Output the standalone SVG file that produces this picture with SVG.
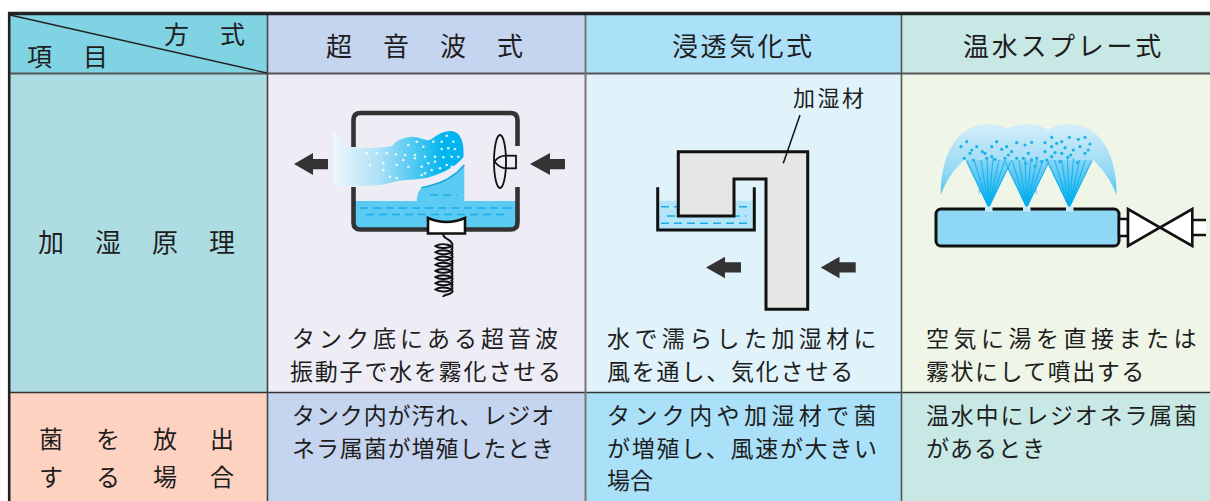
<svg xmlns="http://www.w3.org/2000/svg" width="1210" height="501" viewBox="0 0 1210 501">
<defs>
<style>
.t{font-family:'Noto Sans CJK JP','Noto Sans',sans-serif;fill:#1e1e1e}
.h{font-size:26px}
.b{font-size:23px}
.ink{stroke:#111;fill:none}
.dash{stroke:#19ace6;stroke-width:1.6;stroke-dasharray:8 5;fill:none}
.arrow{fill:#333}
.md{fill:#fff;opacity:.85}
.sd{fill:#19b2ea}
.cl{stroke:#00aeef;stroke-width:1;opacity:.8}
</style>
<linearGradient id="mist" x1="333" y1="0" x2="463" y2="0" gradientUnits="userSpaceOnUse">
<stop offset="0" stop-color="#eef8fd"/>
<stop offset="0.35" stop-color="#ade1f7"/>
<stop offset="0.85" stop-color="#00b4ef"/>
<stop offset="1" stop-color="#00b4ef"/>
</linearGradient>
<linearGradient id="dome" x1="0" y1="124" x2="0" y2="205" gradientUnits="userSpaceOnUse">
<stop offset="0" stop-color="#d6eef9"/>
<stop offset="0.6" stop-color="#92d8f5"/>
<stop offset="1" stop-color="#2cbbef"/>
</linearGradient>
<linearGradient id="cone" x1="0" y1="158" x2="0" y2="206" gradientUnits="userSpaceOnUse">
<stop offset="0" stop-color="#8fd6f5"/>
<stop offset="1" stop-color="#05b0ef"/>
</linearGradient>
</defs>

<g id="cells">
<rect x="9" y="15" width="258" height="58" fill="#7fd3e3"/>
<rect x="267" y="15" width="318" height="58" fill="#c6d5ef"/>
<rect x="585" y="15" width="316" height="58" fill="#aae1f9"/>
<rect x="901" y="15" width="309" height="58" fill="#c8e8e5"/>
<rect x="9" y="73" width="258" height="319" fill="#addde3"/>
<rect x="267" y="73" width="318" height="319" fill="#eeedf6"/>
<rect x="585" y="73" width="316" height="319" fill="#e0f3fb"/>
<rect x="901" y="73" width="309" height="319" fill="#eff6e8"/>
<rect x="9" y="392" width="258" height="109" fill="#fdd2c1"/>
<rect x="267" y="392" width="318" height="109" fill="#c6d5ef"/>
<rect x="585" y="392" width="316" height="109" fill="#aae1f9"/>
<rect x="901" y="392" width="309" height="109" fill="#c8e8e5"/>
</g>

<g id="grid">
<line x1="9" y1="73.5" x2="1210" y2="73.5" stroke="#555" stroke-width="2"/>
<line x1="9" y1="392.5" x2="1210" y2="392.5" stroke="#333" stroke-width="1.6"/>
<line x1="267.5" y1="15" x2="267.5" y2="501" stroke="#444" stroke-width="1.6"/>
<line x1="585.5" y1="15" x2="585.5" y2="501" stroke="#777" stroke-width="2"/>
<line x1="901.5" y1="15" x2="901.5" y2="501" stroke="#555" stroke-width="1.6"/>
<line x1="10" y1="15" x2="267" y2="73" stroke="#222" stroke-width="1.3"/>
<line x1="8" y1="13.5" x2="1210" y2="13.5" stroke="#222" stroke-width="3.5"/>
<line x1="9.2" y1="12" x2="9.2" y2="501" stroke="#222" stroke-width="2.6"/>
</g>

<g id="header">
<text class="t" x="164" y="44" font-size="25" letter-spacing="31">方式</text>
<text class="t" x="27" y="66" font-size="25" letter-spacing="31">項目</text>
<text class="t h" x="326" y="56" letter-spacing="31">超音波式</text>
<text class="t h" x="672" y="56" letter-spacing="2.5">浸透気化式</text>
<text class="t h" x="963" y="56" letter-spacing="2.7">温水スプレー式</text>
</g>

<g id="row-labels">
<text class="t" x="38" y="252" font-size="26" letter-spacing="31">加湿原理</text>
<text class="t" x="39" y="448" font-size="24" letter-spacing="33">菌を放出</text>
<text class="t" x="39" y="486" font-size="24" letter-spacing="33">する場合</text>
</g>

<g id="texts">
<text class="t b" x="292" y="347" letter-spacing="4">タンク底にある超音波</text>
<text class="t b" x="290" y="380" letter-spacing="1.8">振動子で水を霧化させる</text>
<text class="t b" x="607" y="347" letter-spacing="4.4">水で濡らした加湿材に</text>
<text class="t b" x="607" y="380" letter-spacing="1.8">風を通し、気化させる</text>
<text class="t b" x="926" y="347" letter-spacing="4.5">空気に湯を直接または</text>
<text class="t b" x="926" y="380" letter-spacing="1.5">霧状にして噴出する</text>
<text class="t b" x="292" y="424" letter-spacing="0.9">タンク内が汚れ、レジオ</text>
<text class="t b" x="292" y="457" letter-spacing="0.9">ネラ属菌が増殖したとき</text>
<text class="t b" x="607" y="424" letter-spacing="4.4">タンク内や加湿材で菌</text>
<text class="t b" x="607" y="457" letter-spacing="1.7">が増殖し、風速が大きい</text>
<text class="t b" x="607" y="489">場合</text>
<text class="t b" x="926" y="424" letter-spacing="1.8">温水中にレジオネラ属菌</text>
<text class="t b" x="926" y="457" letter-spacing="1">があるとき</text>
</g>

<g id="ultrasonic">
<rect x="355" y="201" width="162" height="28" fill="#5ccbf3"/>
<path d="M416.7,201 C417,196 418,191 421.5,188 C424,186.5 426,187 428,186.3 C443,183 455,176 464.3,165 L464.3,201 Z" fill="#5ccbf3"/>
<path d="M421.5,188 C424,186.5 426,187 428,186.3 C443,183 455,176 464.3,165" fill="none" stroke="#16a8e2" stroke-width="1.5"/>
<line class="dash" x1="430" y1="195" x2="457" y2="195"/>
<line class="dash" x1="360" y1="208" x2="513" y2="208"/>
<line class="dash" x1="366" y1="214.5" x2="506" y2="214.5"/>
<path d="M333,131 C337,136 340,144 348,147 C360,149 380,148 392,146 C397,140 402,138 410,137 C418,136 424,141 430,140 C436,136 440,132 450,131 C458,131 463,137 463.5,150 L463.5,157 C456,166 446,172 430,177 C420,180 408,179 398,181 C388,184 375,186 360,186 L340,186 C336,186 333,184 333,180 Z" fill="url(#mist)"/>
<g class="md">
<circle cx="366.7" cy="153.3" r="1.3"/><circle cx="376.7" cy="153.3" r="1.3"/><circle cx="386.7" cy="153.3" r="1.3"/><circle cx="395.7" cy="154.3" r="1.3"/><circle cx="405" cy="155" r="1.3"/><circle cx="415" cy="155" r="1.3"/><circle cx="425" cy="156.7" r="1.3"/><circle cx="435" cy="156.7" r="1.3"/><circle cx="443.3" cy="157.3" r="1.3"/><circle cx="451.7" cy="156.7" r="1.3"/><circle cx="458.3" cy="156.7" r="1.3"/><circle cx="408.3" cy="145" r="1.3"/><circle cx="416.7" cy="141.7" r="1.3"/><circle cx="423.3" cy="146.7" r="1.3"/><circle cx="433.3" cy="141.7" r="1.3"/><circle cx="441.7" cy="141.7" r="1.3"/><circle cx="446.7" cy="135.7" r="1.3"/><circle cx="453.3" cy="141.7" r="1.3"/><circle cx="441.7" cy="149" r="1.3"/><circle cx="448.3" cy="148.3" r="1.3"/><circle cx="455" cy="149" r="1.3"/><circle cx="370" cy="165" r="1.3"/><circle cx="383.3" cy="163.3" r="1.3"/><circle cx="383.3" cy="170" r="1.3"/><circle cx="396.7" cy="165" r="1.3"/><circle cx="408.3" cy="166.7" r="1.3"/><circle cx="415" cy="158.3" r="1.3"/><circle cx="421.7" cy="166.7" r="1.3"/><circle cx="428.3" cy="163.3" r="1.3"/><circle cx="435" cy="161.7" r="1.3"/><circle cx="440" cy="168.3" r="1.3"/><circle cx="446.7" cy="165" r="1.3"/><circle cx="451.7" cy="166.7" r="1.3"/><circle cx="431.7" cy="170" r="1.3"/><circle cx="425" cy="173.3" r="1.3"/><circle cx="390" cy="176.7" r="1.3"/><circle cx="396.7" cy="178.3" r="1.3"/><circle cx="403.3" cy="160" r="1.3"/><circle cx="421.7" cy="175" r="1.3"/>
</g>
<path d="M353.5,147 V120 Q353.5,113 360.5,113 H510.5 Q517.5,113 517.5,120 V146" fill="none" stroke="#333" stroke-width="4.6"/>
<path d="M353.5,187 V222.5 Q353.5,229.5 360.5,229.5 H510.5 Q517.5,229.5 517.5,222.5 V187" fill="none" stroke="#333" stroke-width="4.6"/>
<path d="M428,218 Q446.5,226 465,218 V233.5 H428 Z" fill="#fff" stroke="#111" stroke-width="2.6"/>
<path class="ink" stroke-width="2" d="M443,234 C443,239 451,239 451.5,243 A8,3 0 0 1 435.5,246.1 A8,3 0 0 1 451.5,249.2 A8,3 0 0 1 435.5,252.3 A8,3 0 0 1 451.5,255.4 A8,3 0 0 1 435.5,258.5 A8,3 0 0 1 451.5,261.6 A8,3 0 0 1 435.5,264.7 A8,3 0 0 1 451.5,267.8 A8,3 0 0 1 435.5,270.9 A8,3 0 0 1 451.5,274 A8,3 0 0 1 435.5,277.1 A8,3 0 0 1 451.5,280.2 A8,3 0 0 1 435.5,283.3 A8,3 0 0 1 451.5,286.4 A8,3 0 0 1 435.5,289.5 A8,3 0 0 1 451.5,292.6 C450,295 444,294 443,297"/>
<ellipse class="ink" cx="500" cy="161.5" rx="6" ry="26.5" stroke-width="1.8"/>
<rect x="506" y="155.7" width="10" height="12.6" fill="#eeedf6" stroke="#111" stroke-width="1.8"/>
<path class="ink" stroke-width="1.8" d="M494.5,161.5 C498,157 502,155.7 506,155.7 M494.5,161.5 C498,166 502,168.3 506,168.3"/>
<path class="arrow" d="M294,164 L313,153 L313,159 L328,159 L328,169.3 L313,169.3 L313,175 Z"/>
<path class="arrow" d="M530,164 L550,153 L550,159 L565,159 L565,169.3 L550,169.3 L550,175 Z"/>
</g>

<g id="evaporative">
<rect x="659" y="200.7" width="94" height="28.5" fill="#b3e4f8"/>
<line class="dash" x1="661" y1="206.7" x2="752" y2="206.7"/>
<line class="dash" x1="667" y1="216" x2="746" y2="216"/>
<line class="dash" x1="661" y1="223.3" x2="752" y2="223.3"/>
<path class="ink" stroke-width="3" d="M657.7,187.3 V230 H754.3 V187.3"/>
<path d="M678.3,151.7 H807.7 V309.3 H766 V179 H734 V216 H678.3 Z" fill="#e6e6e6" stroke="#111" stroke-width="3"/>
<text class="t" x="793" y="106" font-size="22" letter-spacing="2.5">加湿材</text>
<path class="arrow" d="M706,267.5 L725,256.7 L725,262.3 L741,262.3 L741,272.5 L725,272.5 L725,278.3 Z"/>
<path class="arrow" d="M820.7,267.5 L839.5,256.7 L839.5,262.3 L855.7,262.3 L855.7,272.5 L839.5,272.5 L839.5,278.3 Z"/>
</g>

<g id="connectors">
<line x1="800" y1="115" x2="783.3" y2="163.3" stroke="#111" stroke-width="1.5"/>
</g>

<g id="spray">
<path d="M940.7,195 C940.7,150 960,124 988.7,124 C1017,124 1036.7,150 1036.7,195 C1030,178 1020,166 1012,159 L988.7,208 L965.5,159 C957,166 947,178 940.7,195 Z" fill="url(#dome)"/>
<path d="M978.7,195 C978.7,150 998,124 1026.7,124 C1055,124 1074.7,150 1074.7,195 C1068,178 1058,166 1050,159 L1026.7,208 L1003.5,159 C995,166 985,178 978.7,195 Z" fill="url(#dome)"/>
<path d="M1022,195 C1022,150 1041,124 1069.3,124 C1097.6,124 1116.7,150 1116.7,195 C1110,178 1100,166 1092,159 L1069.3,208 L1046,159 C1038,166 1028,178 1022,195 Z" fill="url(#dome)"/>
<path d="M988.7,208 L965,160 L1012.5,160 Z M1026.7,208 L1003,160 L1050.5,160 Z M1069.3,208 L1045.5,160 L1093,160 Z" fill="url(#cone)"/>
<g class="cl">
<path d="M988.7,208 L967,161 M988.7,208 L974,160 M988.7,208 L981,160 M988.7,208 L987,158 M988.7,208 L993,158 M988.7,208 L999,160 M988.7,208 L1005,160 M988.7,208 L1011,161"/>
<path d="M1026.7,208 L1005,161 M1026.7,208 L1012,160 M1026.7,208 L1019,160 M1026.7,208 L1025,158 M1026.7,208 L1031,158 M1026.7,208 L1037,160 M1026.7,208 L1043,160 M1026.7,208 L1049,161"/>
<path d="M1069.3,208 L1047.5,161 M1069.3,208 L1054.5,160 M1069.3,208 L1061.5,160 M1069.3,208 L1067.5,158 M1069.3,208 L1073.5,158 M1069.3,208 L1079.5,160 M1069.3,208 L1085.5,160 M1069.3,208 L1091.5,161"/>
</g>
<g class="sd">
<circle cx="961" cy="146.7" r="1.6"/><circle cx="966.7" cy="141.7" r="1.6"/><circle cx="971.7" cy="150" r="1.6"/><circle cx="976.7" cy="146.7" r="1.6"/><circle cx="982.3" cy="151.7" r="1.6"/><circle cx="991.7" cy="146.7" r="1.6"/><circle cx="996.7" cy="141.7" r="1.6"/><circle cx="1001.7" cy="149.3" r="1.6"/><circle cx="964.3" cy="158.3" r="1.6"/><circle cx="973.3" cy="160" r="1.6"/><circle cx="985" cy="153.3" r="1.6"/><circle cx="991.7" cy="156.7" r="1.6"/><circle cx="970" cy="153.3" r="1.6"/><circle cx="986.7" cy="158.3" r="1.6"/><circle cx="995" cy="159.3" r="1.6"/>
<circle cx="1006.7" cy="146.7" r="1.6"/><circle cx="1016.7" cy="142.7" r="1.6"/><circle cx="1025" cy="145" r="1.6"/><circle cx="1031.7" cy="142.3" r="1.6"/><circle cx="1011.7" cy="151.7" r="1.6"/><circle cx="1028.3" cy="153.3" r="1.6"/><circle cx="1005" cy="158.3" r="1.6"/><circle cx="1016.7" cy="158.3" r="1.6"/><circle cx="1023.3" cy="158.3" r="1.6"/><circle cx="1031.7" cy="160" r="1.6"/><circle cx="1036.7" cy="158.3" r="1.6"/><circle cx="1035" cy="166" r="1.6"/><circle cx="1008.3" cy="155" r="1.6"/><circle cx="1025.7" cy="163.3" r="1.6"/>
<circle cx="1045" cy="142.7" r="1.6"/><circle cx="1051.7" cy="137.3" r="1.6"/><circle cx="1056.7" cy="143.3" r="1.6"/><circle cx="1061.7" cy="141.7" r="1.6"/><circle cx="1069.3" cy="137.3" r="1.6"/><circle cx="1078.3" cy="139.3" r="1.6"/><circle cx="1085" cy="137.3" r="1.6"/><circle cx="1090" cy="144" r="1.6"/><circle cx="1051.7" cy="146.7" r="1.6"/><circle cx="1065" cy="147.7" r="1.6"/><circle cx="1073.3" cy="150" r="1.6"/><circle cx="1080" cy="146.7" r="1.6"/><circle cx="1088.3" cy="150" r="1.6"/><circle cx="1045" cy="151.7" r="1.6"/><circle cx="1055" cy="152.7" r="1.6"/><circle cx="1061.7" cy="153.3" r="1.6"/><circle cx="1070.7" cy="155" r="1.6"/><circle cx="1085" cy="153.3" r="1.6"/><circle cx="1051.7" cy="156.7" r="1.6"/><circle cx="1060" cy="161.7" r="1.6"/><circle cx="1067.7" cy="157.3" r="1.6"/><circle cx="1077.3" cy="162.7" r="1.6"/><circle cx="1041.7" cy="161.7" r="1.6"/><circle cx="1046.7" cy="160" r="1.6"/>
</g>
<rect x="936" y="209" width="183" height="37" rx="5" fill="#8fd8f5" stroke="#111" stroke-width="3"/>
<rect x="985" y="206.5" width="7.5" height="5" fill="#c4e9f8"/>
<rect x="1023" y="206.5" width="7.5" height="5" fill="#c4e9f8"/>
<rect x="1066" y="206.5" width="7.5" height="5" fill="#c4e9f8"/>
<rect x="1119" y="219" width="9" height="17" fill="#fff" stroke="#111" stroke-width="2.5"/>
<rect x="1192.3" y="220" width="14" height="15" fill="#fff"/>
<path class="ink" stroke-width="2.5" d="M1192.3,220 H1206 M1192.3,235 H1206"/>
<path d="M1128,209 L1128,246 L1160,227.5 Z M1192.3,209 L1192.3,246 L1160,227.5 Z" fill="#fff" stroke="#111" stroke-width="2.6" stroke-linejoin="miter"/>
</g>
</svg>
